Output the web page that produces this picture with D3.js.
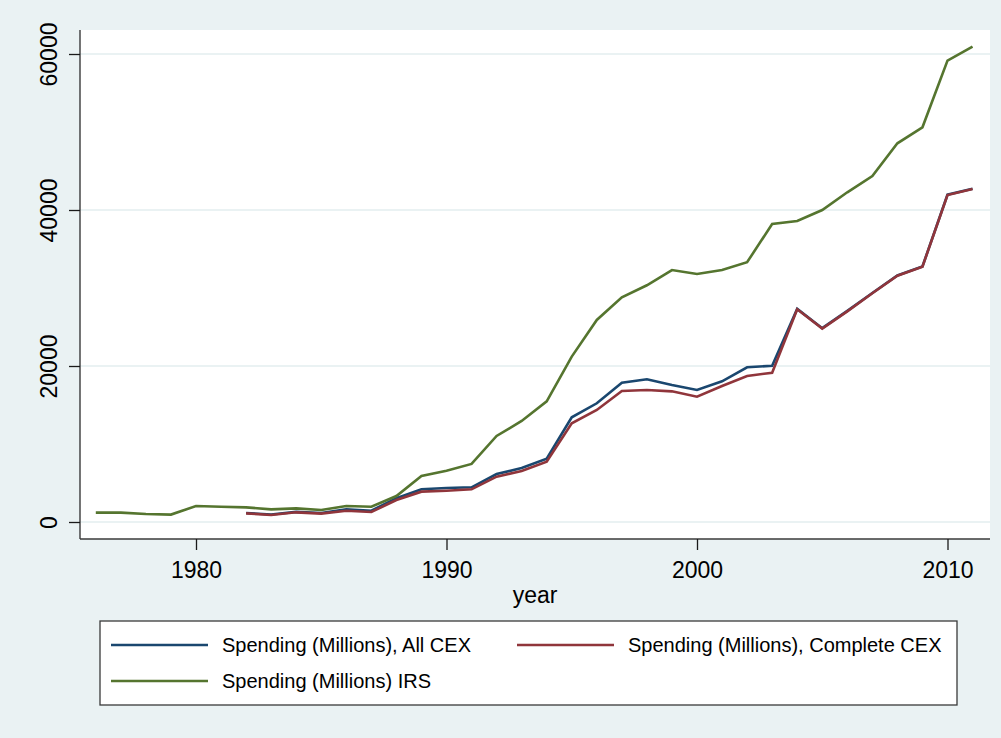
<!DOCTYPE html>
<html>
<head>
<meta charset="utf-8">
<script src="https://cdn.jsdelivr.net/npm/d3@7"></script>
<style>
  html, body { margin: 0; padding: 0; background: #eaf2f3; }
  svg { display: block; font-family: "Liberation Sans", Arial, sans-serif; }
</style>
</head>
<body>
<svg id="chart" width="1001" height="738"></svg>
<script>
// ---- data ----
const irsYears = d3.range(1976, 2012);
const irsValues = [1200, 1200, 1030, 950, 2050, 1960, 1880, 1620, 1750, 1540, 2050, 1960,
  3330, 5900, 6580, 7440, 11030, 12950, 15470, 21200, 25900, 28800, 30350, 32300,
  31800, 32300, 33300, 38200, 38600, 40000, 42270, 44360, 48550, 50600, 59150, 60940];
const cexYears = d3.range(1982, 2012);
const allCexValues = [1150, 960, 1300, 1150, 1620, 1450, 3040, 4190, 4360, 4450, 6150, 6920,
  8120, 13420, 15220, 17860, 18300, 17560, 16920, 18040, 19830, 20040, 27320, 24850,
  27060, 29360, 31610, 32760, 41960, 42720];
const completeCexValues = [1110, 900, 1240, 1070, 1450, 1280, 2820, 3890, 4010, 4190, 5810, 6540,
  7730, 12650, 14360, 16800, 16920, 16750, 16060, 17440, 18720, 19140, 27270, 24800,
  27010, 29320, 31580, 32730, 41920, 42690];
const xTicks = [1980, 1990, 2000, 2010];
const yTicks = [0, 20000, 40000, 60000];
const seriesNames = ["Spending (Millions), All CEX", "Spending (Millions), Complete CEX", "Spending (Millions) IRS"];
const seriesColors = ["#1a476f", "#90353b", "#55752f"];

// ---- layout ----
const svg = d3.select("#chart");
const W = 1001, H = 738;
const plot = { left: 80, right: 990, top: 30, bottom: 539 };

svg.append("rect").attr("x", 0).attr("y", 0).attr("width", W).attr("height", H).attr("fill", "#eaf2f3");
svg.append("rect").attr("x", plot.left).attr("y", plot.top)
  .attr("width", plot.right - plot.left).attr("height", plot.bottom - plot.top).attr("fill", "#ffffff");

const x = d3.scaleLinear().domain([1980, 2010]).range([196, 947.5]);
const y = d3.scaleLinear().domain([0, 60000]).range([522, 54]);

// gridlines
svg.append("g").selectAll("line").data(yTicks).join("line")
  .attr("x1", plot.left).attr("x2", plot.right)
  .attr("y1", d => y(d)).attr("y2", d => y(d))
  .attr("stroke", "#eaf2f3").attr("stroke-width", 2);

// lines
const line = d3.line().x(d => x(d[0])).y(d => y(d[1]));
const series = [
  d3.zip(cexYears, allCexValues),
  d3.zip(cexYears, completeCexValues),
  d3.zip(irsYears, irsValues)
];
series.forEach((s, i) => {
  svg.append("path").datum(s).attr("d", line)
    .attr("fill", "none").attr("stroke", seriesColors[i])
    .attr("stroke-width", 2.6).attr("stroke-linejoin", "miter");
});

// axes
const xAxis = d3.axisBottom(x).tickValues(xTicks).tickSize(11).tickPadding(6).tickFormat(d3.format("d"));
const gx = svg.append("g").attr("transform", `translate(0,${plot.bottom})`).call(xAxis);
gx.select(".domain").attr("d", `M${plot.left},0H${plot.right}`).attr("stroke", "#3a3a3a").attr("stroke-width", 1.4);
gx.selectAll(".tick line").attr("stroke", "#1a1a1a").attr("stroke-width", 1.3);
gx.selectAll(".tick text").attr("font-size", 23).attr("fill", "#000")
  .attr("font-family", "'Liberation Sans', Arial, sans-serif").attr("dy", null).attr("y", 39);

const yAxis = d3.axisLeft(y).tickValues(yTicks).tickSize(11).tickFormat(d3.format("d"));
const gy = svg.append("g").attr("transform", `translate(${plot.left},0)`).call(yAxis);
gy.select(".domain").attr("d", `M0,${plot.top}V${plot.bottom}`).attr("stroke", "#3a3a3a").attr("stroke-width", 1.4);
gy.selectAll(".tick line").attr("stroke", "#1a1a1a").attr("stroke-width", 1.3);
gy.selectAll(".tick text").attr("font-size", 23).attr("fill", "#000")
  .attr("font-family", "'Liberation Sans', Arial, sans-serif")
  .attr("x", null).attr("dy", null).attr("y", null)
  .attr("text-anchor", "middle")
  .attr("transform", "translate(-23,0) rotate(-90)");

// axis title
svg.append("text").attr("x", (plot.left + plot.right) / 2).attr("y", 603)
  .attr("text-anchor", "middle").attr("font-size", 23).attr("fill", "#000").text("year");

// legend
const lg = svg.append("g");
lg.append("rect").attr("x", 100).attr("y", 621).attr("width", 857).attr("height", 84)
  .attr("fill", "#ffffff").attr("stroke", "#3a3a3a").attr("stroke-width", 1.3);
const legendPos = [[111, 645], [517, 645], [111, 681]];
seriesNames.forEach((name, i) => {
  const [lx, ly] = legendPos[i];
  lg.append("line").attr("x1", lx).attr("x2", lx + 97).attr("y1", ly).attr("y2", ly)
    .attr("stroke", seriesColors[i]).attr("stroke-width", 2.6);
  lg.append("text").attr("x", lx + 111).attr("y", ly + 7).attr("font-size", 20).attr("fill", "#000").text(name);
});
</script>
</body>
</html>
